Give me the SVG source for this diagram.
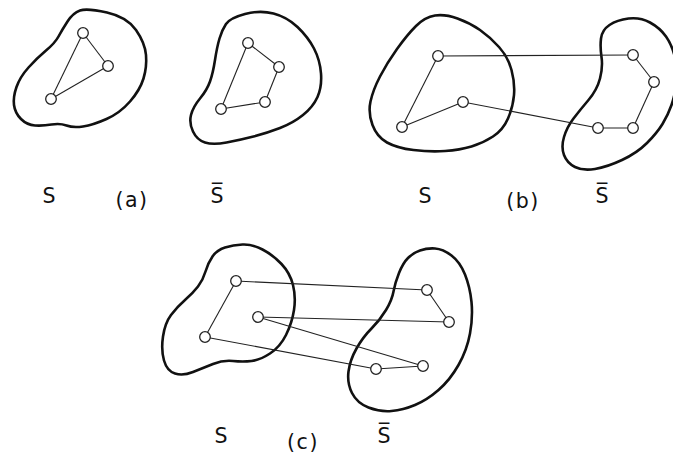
<svg xmlns="http://www.w3.org/2000/svg" width="673" height="455" viewBox="0 0 673 455">
<style>
.blob{fill:none;stroke:#111;stroke-width:2.6;stroke-linejoin:round}
.edge{stroke:#222;stroke-width:1.1;fill:none}
.node{fill:#fff;stroke:#222;stroke-width:1.3}
.lbl{font-family:"DejaVu Sans","Liberation Sans",sans-serif;font-size:20.5px;fill:#111;text-anchor:middle}
</style>
<rect width="673" height="455" fill="#fff"/>
<g id="blobs">
<path id="a-S" class="blob" d="M107,12.5 Q127,17 136,30 Q145,43 146,55 Q147,67 143.5,78.5 Q140,90 130,101.5 Q120,113 106.5,119 Q93,125 83,126.5 Q73,128 66.5,125.5 Q60,123 51.5,124.5 Q43,126 35,125.5 Q27,125 21,119 Q15,113 14,105 Q13,97 16.5,87 Q20,77 28.5,67.5 Q37,58 46,50.5 Q55,43 58.5,36.5 Q62,30 67.5,21.5 Q73,13 80,10.5 Q87,8 107,12.5 Z"/>
<path id="a-Sbar" class="blob" d="M245,14 Q260,10 273.5,13.5 Q287,17 297.5,27 Q308,37 314,48.5 Q320,60 321,73.5 Q322,87 317.5,97 Q313,107 303,115 Q293,123 280,128 Q267,133 253.5,136.5 Q240,140 226.5,142.5 Q213,145 205,142.5 Q197,140 193,131.5 Q189,123 191,115 Q193,107 200,98.5 Q207,90 210,81.5 Q213,73 215,60 Q217,47 219.5,38.5 Q222,30 226,24 Q230,18 245,14 Z"/>
<path id="b-S" class="blob" d="M435,15.5 Q445,14 457.5,18.5 Q470,23 480,30 Q490,37 499,47 Q508,57 511.5,70 Q515,83 514,95 Q513,107 508,118.5 Q503,130 493,136.5 Q483,143 471.5,146.5 Q460,150 445,151 Q430,152 413.5,150 Q397,148 387,142.5 Q377,137 372.5,125 Q368,113 370.5,101.5 Q373,90 380,76.5 Q387,63 397,49 Q407,35 416,26 Q425,17 435,15.5 Z"/>
<path id="b-Sbar" class="blob" d="M609.5,25 Q617,20 628.5,18.5 Q640,17 650,22.5 Q660,28 666,36.5 Q672,45 675,57.5 Q678,70 676.5,82.5 Q675,95 671.5,105 Q668,115 662.5,124 Q657,133 647,143 Q637,153 622,160 Q607,167 595,169 Q583,171 575,167 Q567,163 564,155 Q561,147 564,137 Q567,127 573.5,118.5 Q580,110 588.5,100 Q597,90 600,78.5 Q603,67 601.5,57 Q600,47 601,38.5 Q602,30 609.5,25 Z"/>
<path id="c-S" class="blob" d="M225,247.5 Q233,245 242.5,244.5 Q252,244 262.5,249.5 Q273,255 281.5,264 Q290,273 293,285 Q296,297 294,310 Q292,323 286,335 Q280,347 270,353.5 Q260,360 251.5,361 Q243,362 233,361 Q223,360 213,364 Q203,368 193,372 Q183,376 175,373.5 Q167,371 164,360.5 Q161,350 163,336.5 Q165,323 171,315 Q177,307 185,300 Q193,293 198,286.5 Q203,280 205.5,271.5 Q208,263 212.5,256.5 Q217,250 225,247.5 Z"/>
<path id="c-Sbar" class="blob" d="M420,250.5 Q427,248 435,248.5 Q443,249 451.5,255.5 Q460,262 465,274.5 Q470,287 471.5,302 Q473,317 470,333.5 Q467,350 458.5,365 Q450,380 438.5,390 Q427,400 415,405 Q403,410 391.5,411 Q380,412 368.5,407.5 Q357,403 352,393 Q347,383 348.5,371.5 Q350,360 356.5,348.5 Q363,337 371.5,328.5 Q380,320 386,310 Q392,300 393.5,291.5 Q395,283 399,273 Q403,263 408,258 Q413,253 420,250.5 Z"/>
</g>
<g id="connectors">
<line class="edge" x1="83" y1="33" x2="108" y2="66"/>
<line class="edge" x1="108" y1="66" x2="51" y2="99"/>
<line class="edge" x1="51" y1="99" x2="83" y2="33"/>
<line class="edge" x1="248" y1="43" x2="279" y2="67"/>
<line class="edge" x1="279" y1="67" x2="265" y2="102"/>
<line class="edge" x1="265" y1="102" x2="221" y2="109"/>
<line class="edge" x1="221" y1="109" x2="248" y2="43"/>
<line class="edge" x1="438" y1="56" x2="633" y2="55"/>
<line class="edge" x1="438" y1="56" x2="402" y2="127"/>
<line class="edge" x1="402" y1="127" x2="463" y2="102"/>
<line class="edge" x1="463" y1="102" x2="598" y2="128"/>
<line class="edge" x1="598" y1="128" x2="633" y2="128"/>
<line class="edge" x1="633" y1="128" x2="654" y2="82"/>
<line class="edge" x1="654" y1="82" x2="633" y2="55"/>
<line class="edge" x1="236" y1="281" x2="427" y2="290"/>
<line class="edge" x1="427" y1="290" x2="449" y2="322"/>
<line class="edge" x1="449" y1="322" x2="258" y2="317"/>
<line class="edge" x1="258" y1="317" x2="423" y2="366"/>
<line class="edge" x1="423" y1="366" x2="376" y2="369"/>
<line class="edge" x1="376" y1="369" x2="205" y2="337"/>
<line class="edge" x1="205" y1="337" x2="236" y2="281"/>
</g>
<g id="nodes">
<g id="a1"><circle class="node" cx="83" cy="33" r="5.3"/></g>
<g id="a2"><circle class="node" cx="108" cy="66" r="5.3"/></g>
<g id="a3"><circle class="node" cx="51" cy="99" r="5.3"/></g>
<g id="a4"><circle class="node" cx="248" cy="43" r="5.3"/></g>
<g id="a5"><circle class="node" cx="279" cy="67" r="5.3"/></g>
<g id="a6"><circle class="node" cx="265" cy="102" r="5.3"/></g>
<g id="a7"><circle class="node" cx="221" cy="109" r="5.3"/></g>
<g id="b1"><circle class="node" cx="438" cy="56" r="5.3"/></g>
<g id="b2"><circle class="node" cx="463" cy="102" r="5.3"/></g>
<g id="b3"><circle class="node" cx="402" cy="127" r="5.3"/></g>
<g id="b4"><circle class="node" cx="633" cy="55" r="5.3"/></g>
<g id="b5"><circle class="node" cx="654" cy="82" r="5.3"/></g>
<g id="b6"><circle class="node" cx="633" cy="128" r="5.3"/></g>
<g id="b7"><circle class="node" cx="598" cy="128" r="5.3"/></g>
<g id="c1"><circle class="node" cx="236" cy="281" r="5.3"/></g>
<g id="c2"><circle class="node" cx="258" cy="317" r="5.3"/></g>
<g id="c3"><circle class="node" cx="205" cy="337" r="5.3"/></g>
<g id="c4"><circle class="node" cx="427" cy="290" r="5.3"/></g>
<g id="c5"><circle class="node" cx="449" cy="322" r="5.3"/></g>
<g id="c6"><circle class="node" cx="423" cy="366" r="5.3"/></g>
<g id="c7"><circle class="node" cx="376" cy="369" r="5.3"/></g>
</g>
<g id="labels">
<text class="lbl" x="49" y="203">S</text>
<text class="lbl" x="132" y="207" letter-spacing="1.5">(a)</text>
<text class="lbl" x="217" y="203">S̅</text>
<text class="lbl" x="425" y="203">S</text>
<text class="lbl" x="523" y="208" letter-spacing="1.5">(b)</text>
<text class="lbl" x="602" y="203">S̅</text>
<text class="lbl" x="221" y="443">S</text>
<text class="lbl" x="303" y="449" letter-spacing="1.5">(c)</text>
<text class="lbl" x="384" y="443">S̅</text>
</g>
</svg>
